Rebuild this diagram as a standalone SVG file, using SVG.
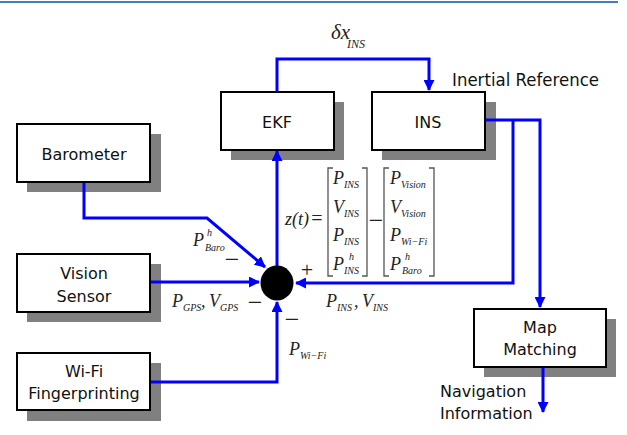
<svg xmlns="http://www.w3.org/2000/svg" width="627" height="435" viewBox="0 0 627 435">
<style>
.box{fill:#fff;stroke:#000;stroke-width:2}
.sh{fill:#808080}
.lbl{font-family:"DejaVu Sans","Liberation Sans",sans-serif;font-size:16px;fill:#111;text-anchor:middle}
.c{fill:none;stroke:#0000ff;stroke-width:3}
.m{font-family:"Liberation Serif","Times New Roman",serif;font-style:italic;font-size:18px;fill:#222}
.s{font-family:"Liberation Serif","Times New Roman",serif;font-style:italic;font-size:10px;fill:#222}
.op{font-family:"Liberation Serif","Times New Roman",serif;font-size:26px;fill:#222;text-anchor:middle}
.br{fill:none;stroke:#555;stroke-width:1.3}
</style>
<defs>
<marker id="ah" markerUnits="userSpaceOnUse" markerWidth="11" markerHeight="11" refX="10" refY="5.5" orient="auto">
<path d="M0,0 L11,5.5 L0,11 z" fill="#0000ff"/>
</marker>
</defs>
<rect width="627" height="435" fill="#fff"/>
<line x1="0" y1="2" x2="618" y2="2" stroke="#3f7fbf" stroke-width="2"/>

<g id="ekf">
<rect class="sh" x="231" y="102" width="113" height="58"/>
<rect class="box" x="221" y="92" width="113" height="58"/>
<text class="lbl" x="277" y="128">EKF</text>
</g>
<g id="ins">
<rect class="sh" x="382" y="102" width="114" height="58"/>
<rect class="box" x="372" y="92" width="113" height="58"/>
<text class="lbl" x="428" y="128">INS</text>
</g>
<g id="barometer">
<rect class="sh" x="27" y="134" width="134" height="58"/>
<rect class="box" x="17" y="124" width="133" height="58"/>
<text class="lbl" x="84" y="160">Barometer</text>
</g>
<g id="vision">
<rect class="sh" x="27" y="264" width="134" height="58"/>
<rect class="box" x="17" y="254" width="133" height="58"/>
<text class="lbl" x="84" y="279">Vision</text>
<text class="lbl" x="84" y="302">Sensor</text>
</g>
<g id="wifi">
<rect class="sh" x="27" y="363" width="134" height="58"/>
<rect class="box" x="17" y="353" width="133" height="57"/>
<text class="lbl" x="84" y="377">Wi-Fi</text>
<text class="lbl" x="84" y="399">Fingerprinting</text>
</g>
<g id="map">
<rect class="sh" x="484" y="319" width="132" height="58"/>
<rect class="box" x="474" y="309" width="132" height="58"/>
<text class="lbl" x="540" y="333">Map</text>
<text class="lbl" x="540" y="355">Matching</text>
</g>

<g id="connectors">
<path class="c" d="M277,92 V59 H429 V90" marker-end="url(#ah)"/>
<path class="c" d="M277,266 V151" marker-end="url(#ah)"/>
<path class="c" d="M486,120 H540 V307" marker-end="url(#ah)"/>
<path class="c" d="M513,120 V283 H296" marker-end="url(#ah)"/>
<path class="c" d="M84,183 V218 H207 L265,267" marker-end="url(#ah)"/>
<path class="c" d="M151,282 H259" marker-end="url(#ah)"/>
<path class="c" d="M151,382 H277 V302" marker-end="url(#ah)"/>
<path class="c" d="M543,368 V412" marker-end="url(#ah)"/>
</g>

<g id="sum">
<ellipse cx="277" cy="283" rx="16.5" ry="17.5" fill="#000"/>
</g>

<g id="labels">
<text class="lbl" x="452" y="86" style="text-anchor:start;font-size:17px" textLength="147" lengthAdjust="spacingAndGlyphs">Inertial Reference</text>
<text class="lbl" x="440" y="397" style="text-anchor:start">Navigation</text>
<text class="lbl" x="440" y="419" style="text-anchor:start">Information</text>

<text class="m" x="331" y="39" style="font-size:21px">δx</text>
<text class="s" x="347" y="48" style="font-size:12px">INS</text>

<text class="m" x="193" y="246">P</text>
<text class="s" x="207" y="236">h</text>
<text class="s" x="205" y="251">Baro</text>
<text class="op" x="232" y="268">−</text>

<text class="m" x="172" y="307">P</text>
<text class="s" x="183" y="311">GPS</text>
<text class="m" x="201" y="307">,</text>
<text class="m" x="209" y="307">V</text>
<text class="s" x="220" y="311">GPS</text>
<text class="op" x="255" y="311">−</text>
<text class="op" x="292" y="328">−</text>
<text class="op" x="307" y="277" style="font-size:22px">+</text>

<text class="m" x="289" y="355">P</text>
<text class="s" x="300" y="359">Wi−Fi</text>

<text class="m" x="326" y="307">P</text>
<text class="s" x="337" y="311">INS</text>
<text class="m" x="354" y="307">,</text>
<text class="m" x="362" y="307">V</text>
<text class="s" x="373" y="311">INS</text>

<text class="m" x="285" y="225">z(t)</text>
<text class="op" x="317" y="225" style="font-size:20px">=</text>
<path class="br" d="M333,168 H328 V276 H333 M362,168 H367 V276 H362"/>
<text class="m" x="333" y="184">P</text><text class="s" x="344" y="188">INS</text>
<text class="m" x="333" y="213">V</text><text class="s" x="344" y="217">INS</text>
<text class="m" x="333" y="241">P</text><text class="s" x="344" y="245">INS</text>
<text class="m" x="333" y="270">P</text><text class="s" x="349" y="260">h</text><text class="s" x="344" y="274">INS</text>
<text class="op" x="376" y="229">−</text>
<path class="br" d="M389,168 H384 V276 H389 M429,168 H434 V276 H429"/>
<text class="m" x="390" y="184">P</text><text class="s" x="401" y="188">Vision</text>
<text class="m" x="390" y="213">V</text><text class="s" x="401" y="217">Vision</text>
<text class="m" x="390" y="241">P</text><text class="s" x="401" y="245">Wi−Fi</text>
<text class="m" x="390" y="270">P</text><text class="s" x="405" y="260">h</text><text class="s" x="402" y="274">Baro</text>
</g>
</svg>
